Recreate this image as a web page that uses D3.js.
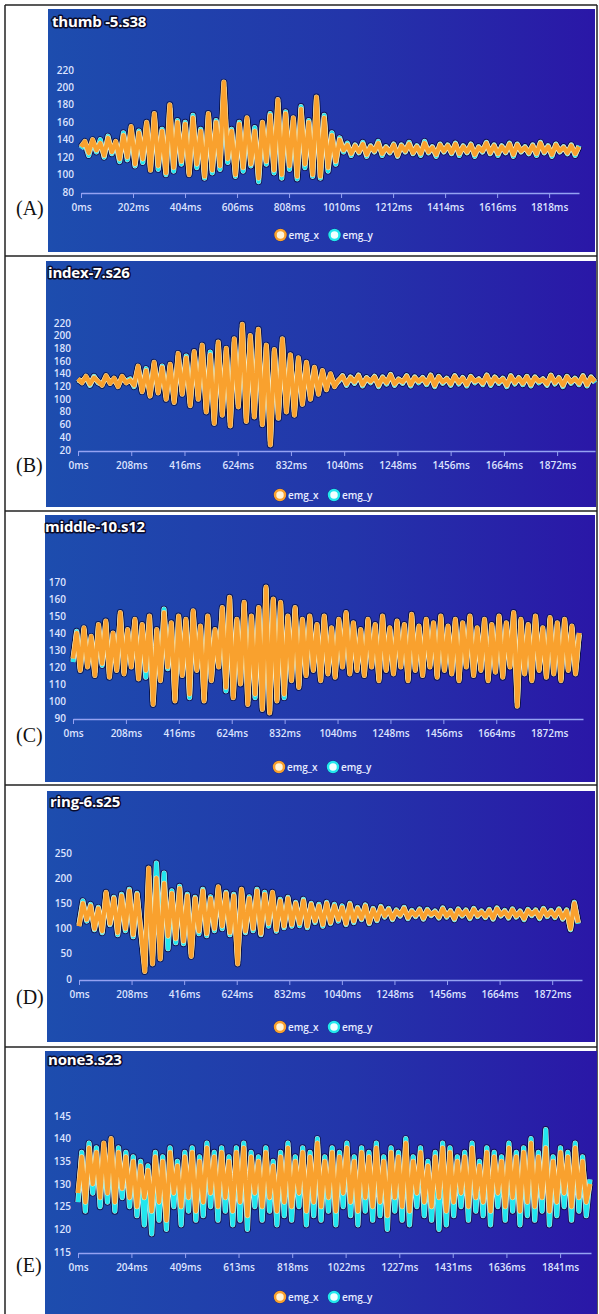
<!DOCTYPE html>
<html>
<head>
<meta charset="utf-8">
<script src="https://cdn.jsdelivr.net/npm/d3@7"></script>
<style>
  body { margin: 0; background: #fff; }
  svg { display: block; }
</style>
</head>
<body>
<div id="wrapper"></div>
<script>
// ---- data ----
const titles = ["thumb -5.s38", "index-7.s26", "middle-10.s12", "ring-6.s25", "none3.s23"];
const rowLabels = ["(A)", "(B)", "(C)", "(D)", "(E)"];
const seriesNames = ["emg_x", "emg_y"];

const xTicksA = [0, 202, 404, 606, 808, 1010, 1212, 1414, 1616, 1818];
const xTicksB = [0, 208, 416, 624, 832, 1040, 1248, 1456, 1664, 1872];
const xTicksC = [0, 208, 416, 624, 832, 1040, 1248, 1456, 1664, 1872];
const xTicksD = [0, 208, 416, 624, 832, 1040, 1248, 1456, 1664, 1872];
const xTicksE = [0, 204, 409, 613, 818, 1022, 1227, 1431, 1636, 1841];

const yTicksA = [80, 100, 120, 140, 160, 180, 200, 220];
const yTicksB = [20, 40, 60, 80, 100, 120, 140, 160, 180, 200, 220];
const yTicksC = [90, 100, 110, 120, 130, 140, 150, 160, 170];
const yTicksD = [0, 50, 100, 150, 200, 250];
const yTicksE = [115, 120, 125, 130, 135, 140, 145];

const axisEndMs = [1934, 2020, 2005, 1990, 1959];
const dataEndMs = [1934, 2020, 1990, 1975, 1955];

const thumbX = [132,138,125,140,128,136,122,142,126,138,118,
  145,120,155,112,148,118,160,105,170,110,
  150,102,180,108,160,115,158,100,165,112,
  150,98,170,105,160,110,206,118,150,100,
  158,108,165,112,150,96,160,115,168,105,
  186,100,170,110,165,98,175,112,160,100,
  189,98,165,108,145,115,140,
  128,134,124,133,126,135,123,132,127,136,
  124,131,126,134,122,133,127,135,125,132,
  124,136,126,131,123,134,127,133,125,135,
  124,132,126,134,123,131,127,136,125,133,
  124,132,126,135,123,134,127,131,125,133,
  124,136,126,132,123,134,127,131,125,133,
  124,132];
const thumbY = [130,136,122,138,126,140,120,144,124,136,115,
  148,117,152,110,150,114,158,108,166,106,
  152,100,176,104,162,112,160,102,168,108,
  152,96,168,102,162,106,200,114,152,98,
  160,104,162,110,154,92,158,112,170,102,
  182,96,172,106,162,95,178,108,162,98,
  186,96,168,104,148,112,142,
  126,136,122,134,125,137,121,133,126,138,
  122,132,125,135,121,134,126,137,124,133,
  122,138,125,132,121,135,126,134,124,136,
  122,133,125,135,121,132,126,137,124,134,
  122,133,125,136,121,135,126,132,124,134,
  122,137,125,133,121,135,126,132,124,134,
  122,133];

const indexX = [132,126,136,124,134,128,122,137,125,133,120,136,126,130,122,
  152,112,145,105,158,110,150,100,155,
  95,172,108,165,90,175,100,
  185,80,170,62,190,75,180,58,195,88,
  218,65,200,72,210,60,185,
  28,178,70,195,80,170,75,
  165,92,158,100,150,108,
  145,115,140,120,
  130,136,124,134,127,137,123,133,128,135,
  122,134,126,138,124,131,127,136,123,134,
  128,133,125,137,122,135,127,132,124,136,
  126,133,123,135,128,131,125,137,124,134,
  127,132,122,136,126,133,125,135,123,134,
  128,131,124,137,126,133,122,135,127,132,
  125,136,123,134,128];
const indexY = [130,128,134,122,136,126,124,135,127,131,122,134,128,132,120,
  150,114,148,108,155,112,152,104,152,
  98,168,112,168,94,172,105,
  180,84,174,66,186,80,176,64,190,92,
  212,70,196,78,205,66,182,
  34,175,76,190,86,166,80,
  162,96,155,104,148,112,
  142,118,138,122,
  128,137,122,135,125,138,121,134,126,136,
  120,135,124,139,122,132,125,137,121,135,
  126,134,123,138,120,136,125,133,122,137,
  124,134,121,136,126,132,123,138,122,135,
  125,133,120,137,124,134,123,136,121,135,
  126,132,122,138,124,134,120,136,125,133,
  123,137,121,135,126];

const middleX = [125,140,118,143,120,138,115,145,122,147,114,140,118,152,116,142,120,148,113,145,
  118,150,98,142,112,152,120,146,100,150,115,148,104,153,118,144,100,150,112,142,
  120,155,108,161,102,148,110,158,98,150,104,155,95,167,93,160,100,158,104,150,
  112,155,108,148,115,150,118,145,112,150,116,143,114,148,120,152,116,146,118,142,
  115,148,120,145,112,150,118,143,116,147,120,145,112,151,118,144,115,148,120,146,
  114,150,118,144,116,148,112,146,120,150,115,143,118,148,112,145,117,150,114,146,
  120,152,97,148,116,145,112,150,118,143,114,149,116,146,112,148,118,144,116,140];
const middleY = [123,141,119,142,121,137,117,144,121,146,116,139,119,151,117,141,121,147,115,144,
  114,149,100,141,113,154,119,145,101,149,116,147,102,152,119,143,101,149,113,141,
  121,154,106,160,103,147,111,157,100,149,102,154,96,166,94,159,101,157,102,149,
  113,154,109,147,116,149,119,144,113,149,117,142,115,147,121,151,117,145,119,141,
  116,147,121,144,113,149,119,142,117,146,121,144,113,150,119,143,116,147,121,145,
  115,149,119,143,117,147,113,145,121,149,116,142,119,147,113,144,118,149,115,145,
  121,151,99,147,117,144,113,149,119,142,115,148,117,145,113,147,119,143,117,139];

const ringX = [105,150,118,145,100,140,95,172,110,160,
  92,165,100,175,88,168,95,
  15,220,30,200,40,190,85,
  170,80,180,75,165,45,160,95,
  175,90,160,100,183,105,170,92,165,30,
  178,95,160,100,175,90,168,110,172,98,155,105,160,108,
  150,110,155,105,148,115,145,108,150,
  112,145,118,142,110,148,115,140,120,145,112,138,118,142,
  125,138,120,135,127,140,122,134,126,137,
  121,136,128,133,123,139,125,134,120,137,
  127,135,122,138,126,133,124,136,121,139,
  127,134,123,137,125,133,120,136,128,135,
  122,138,126,134,124,137,121,135,100,150,
  112];
const ringY = [108,155,115,148,98,142,92,170,108,162,
  88,168,96,178,84,170,90,
  25,205,45,230,70,210,60,
  175,72,184,70,168,50,162,90,
  178,86,163,96,180,100,172,88,168,36,
  175,92,163,96,178,88,172,105,168,95,158,102,162,105,
  152,106,158,102,150,112,148,105,152,
  110,148,115,145,108,150,112,142,118,147,110,140,116,144,
  123,140,118,137,125,142,120,136,124,139,
  119,138,126,135,121,141,123,136,118,139,
  125,137,120,140,124,135,122,138,119,141,
  125,136,121,139,123,135,118,138,126,137,
  120,140,124,136,122,139,119,137,98,152,
  110];

const noneX = [128,136,126,138,130,137,127,139,128,140,126,137,129,136,127,135,125,134,127,133,
  124,136,126,135,122,137,128,134,125,136,127,137,124,135,126,138,128,136,125,137,
  127,135,124,137,126,138,123,136,128,135,125,137,127,134,124,136,126,138,125,135,
  128,137,124,136,126,139,125,135,127,137,124,136,128,138,126,135,124,137,127,136,
  125,138,126,135,123,137,127,136,125,139,124,135,128,137,126,134,125,136,127,138,
  124,137,126,135,128,136,125,138,127,134,126,137,124,136,128,135,125,138,127,136,
  124,137,126,139,125,136,127,138,124,135,126,137,128,136,125,138,127,135,126,130];
const noneY = [126,137,124,139,128,138,125,138,126,139,124,138,127,137,125,136,123,135,121,134,
  119,137,122,136,120,138,125,135,121,137,124,138,122,136,123,139,125,137,122,138,
  124,136,121,138,122,139,120,137,125,136,122,138,124,135,121,137,123,139,122,136,
  125,138,121,137,123,140,122,136,124,138,121,137,125,139,123,136,121,138,124,137,
  122,139,123,136,120,138,124,137,122,140,121,136,125,138,123,135,122,137,120,139,
  121,138,123,136,125,137,122,139,124,135,123,138,121,137,125,136,122,139,124,137,
  121,138,123,140,122,137,124,142,121,136,123,138,125,137,122,139,124,136,123,131];

const emgX = [thumbX, indexX, middleX, ringX, noneX];
const emgY = [thumbY, indexY, middleY, ringY, noneY];
const xTicks = [xTicksA, xTicksB, xTicksC, xTicksD, xTicksE];
const yTicks = [yTicksA, yTicksB, yTicksC, yTicksD, yTicksE];

// ---- layout of each table row (pixels) ----
const layout = [
  {px0: 48, px1: 595, py0: 9,    py1: 252,  tx: 52, ty: 27,   xL: 81, xR: 579, yTop: 70,   yBot: 192,  lgY: 235,  labY: 208},
  {px0: 46, px1: 596, py0: 261,  py1: 507,  tx: 48, ty: 278,  xL: 78, xR: 595, yTop: 323,  yBot: 450,  lgY: 495,  labY: 465},
  {px0: 45, px1: 595, py0: 515,  py1: 782,  tx: 45, ty: 532,  xL: 73, xR: 583, yTop: 582,  yBot: 718,  lgY: 767,  labY: 735},
  {px0: 47, px1: 595, py0: 791,  py1: 1042, tx: 50, ty: 807,  xL: 79, xR: 582, yTop: 853,  yBot: 979,  lgY: 1027, labY: 997},
  {px0: 45, px1: 597, py0: 1051, py1: 1314, tx: 48, ty: 1065, xL: 78, xR: 591, yTop: 1116, yBot: 1252, lgY: 1297, labY: 1265}
];
const rowLines = [5, 256, 511, 785, 1047];

const orange = "#f9a12e", cyan = "#22e6ee";

let width = 599, height = 1314;
let svg = d3.select("#wrapper").append("svg")
  .attr("width", width)
  .attr("height", height)
  .style("font-family", "'Open Sans', sans-serif");

let grad = svg.append("defs").append("linearGradient")
  .attr("id", "bg").attr("x1", "0%").attr("x2", "100%").attr("y1", "0%").attr("y2", "0%");
grad.append("stop").attr("offset", "0%").attr("stop-color", "#1d4dae");
grad.append("stop").attr("offset", "55%").attr("stop-color", "#2335aa");
grad.append("stop").attr("offset", "100%").attr("stop-color", "#2a17a7");

// table borders
svg.append("g").attr("stroke", "#222").attr("stroke-width", 1.5)
  .selectAll("line").data(rowLines).join("line")
  .attr("x1", 5).attr("x2", 597).attr("y1", d => d).attr("y2", d => d);
svg.append("g").attr("stroke", "#222").attr("stroke-width", 1.5)
  .selectAll("line").data([5, 597]).join("line")
  .attr("x1", d => d).attr("x2", d => d).attr("y1", 5).attr("y2", height);

layout.forEach((L, k) => {
  let g = svg.append("g");

  g.append("rect")
    .attr("x", L.px0).attr("y", L.py0)
    .attr("width", L.px1 - L.px0).attr("height", L.py1 - L.py0)
    .attr("fill", "url(#bg)");

  // row label in the left cell
  svg.append("text")
    .attr("x", 16).attr("y", L.labY + 7)
    .style("font-family", "'Liberation Serif', serif")
    .style("font-size", "20px")
    .attr("fill", "#111")
    .text(rowLabels[k]);

  // title
  g.append("text")
    .attr("x", L.tx).attr("y", L.ty)
    .attr("fill", "#fff")
    .attr("stroke", "#0a0c2c").attr("stroke-width", 3).attr("stroke-linejoin", "round")
    .attr("paint-order", "stroke")
    .style("font-size", "15px").style("font-weight", 700).style("letter-spacing", "-0.2px")
    .text(titles[k]);

  const yt = yTicks[k];
  let x = d3.scaleLinear().domain([0, axisEndMs[k]]).range([L.xL, L.xR]);
  let y = d3.scaleLinear().domain([yt[0], yt[yt.length - 1]]).range([L.yBot, L.yTop]);

  // y labels (no axis line in the original)
  g.append("g").selectAll("text").data(yt).join("text")
    .attr("x", L.xL - 7).attr("y", d => y(d)).attr("dy", "0.35em")
    .attr("text-anchor", "end")
    .attr("fill", "#dde3ff")
    .style("font-size", "10px").style("font-weight", 600)
    .text(d => d);

  // x axis
  let xAxis = g.append("g")
    .attr("transform", `translate(0,${L.yBot + 1})`)
    .call(d3.axisBottom(x).tickValues(xTicks[k]).tickSize(5).tickSizeOuter(0).tickPadding(6)
      .tickFormat(d => d + "ms"));
  xAxis.select(".domain").attr("stroke", "#95a2f2").attr("stroke-width", 1.5);
  xAxis.selectAll(".tick line").attr("stroke", "#95a2f2");
  xAxis.selectAll(".tick text")
    .attr("fill", "#dde3ff")
    .style("font-family", "'Open Sans', sans-serif")
    .style("font-size", "10px").style("font-weight", 600);

  // series: emg_y underneath, emg_x on top; both shadows go first
  const series = [
    {values: emgY[k], color: cyan, glow: "#eaffff"},
    {values: emgX[k], color: orange, glow: "#fff1c2"}
  ];
  series.forEach(s => {
    const step = dataEndMs[k] / (s.values.length - 1);
    s.line = d3.line().x((d, i) => x(i * step)).y(d => y(d));
  });
  series.forEach(s => {
    g.append("path").attr("d", s.line(s.values))
      .attr("fill", "none").attr("stroke", "#0a0d38").attr("stroke-opacity", 0.75)
      .attr("stroke-width", 7).attr("stroke-linejoin", "round");
  });
  series.forEach(s => {
    g.append("path").attr("d", s.line(s.values))
      .attr("fill", "none").attr("stroke", s.glow).attr("stroke-opacity", 0.9)
      .attr("stroke-width", 5.2).attr("stroke-linejoin", "round");
    g.append("path").attr("d", s.line(s.values))
      .attr("fill", "none").attr("stroke", s.color)
      .attr("stroke-width", 4.2).attr("stroke-linejoin", "round");
  });

  // legend
  const cx = (L.px0 + L.px1) / 2;
  const items = [
    {name: seriesNames[0], color: orange, fill: "#fff4d8", x: cx - 41},
    {name: seriesNames[1], color: cyan, fill: "#f2ffff", x: cx + 13}
  ];
  let lg = g.append("g").selectAll("g").data(items).join("g")
    .attr("transform", d => `translate(${d.x},${L.lgY})`);
  lg.append("circle").attr("r", 6.5).attr("fill", "#0a0d38").attr("opacity", 0.6);
  lg.append("circle").attr("r", 5).attr("fill", d => d.fill)
    .attr("stroke", d => d.color).attr("stroke-width", 2.5);
  lg.append("text")
    .attr("x", 8).attr("dy", "0.35em")
    .attr("fill", "#e8ecff")
    .style("font-size", "10px").style("font-weight", 600)
    .text(d => d.name);
});
</script>
</body>
</html>
